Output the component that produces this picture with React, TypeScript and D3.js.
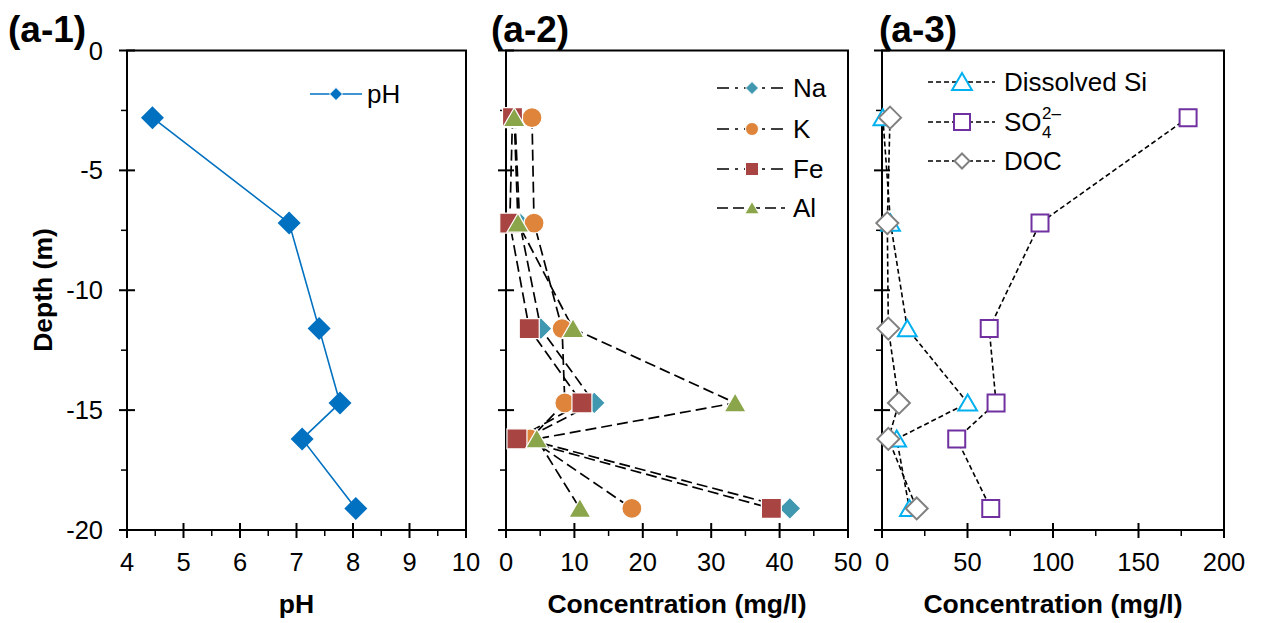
import React from "react";
import * as d3 from "d3";

const depths = [-2.8, -7.2, -11.6, -14.7, -16.2, -19.1];
const pHValues = [4.45, 6.87, 7.4, 7.77, 7.1, 8.05];
const naValues = [1.3, 2.0, 5.1, 12.9, 2.8, 41.5];
const kValues = [3.8, 4.1, 8.2, 8.6, 3.5, 18.4];
const feValues = [0.95, 0.55, 3.4, 11.1, 1.6, 38.8];
const alValues = [1.2, 1.75, 9.8, 33.5, 4.5, 10.8];
const siValues = [0.5, 5, 14.8, 50.1, 8.6, 16];
const so4Values = [179, 92.4, 62.7, 66.7, 43.7, 63.6];
const docValues = [4.7, 3.1, 3.7, 9.9, 3.7, 20.3];

const depthTicks = [0, -5, -10, -15, -20];
const phTicks = [4, 5, 6, 7, 8, 9, 10];
const conc2Ticks = [0, 10, 20, 30, 40, 50];
const conc3Ticks = [0, 50, 100, 150, 200];

const FONT = "'Liberation Sans', Arial, sans-serif";
const TOP = 50.5;
const BOTTOM = 530;

type Shape = "diamond" | "circle" | "square" | "triangle";

function markerPath(shape: Shape, cx: number, cy: number, r: number): string {
  switch (shape) {
    case "diamond":
      return `M${cx},${cy - r}L${cx + r},${cy}L${cx},${cy + r}L${cx - r},${cy}Z`;
    case "square":
      return `M${cx - r},${cy - r}L${cx + r},${cy - r}L${cx + r},${cy + r}L${cx - r},${cy + r}Z`;
    case "triangle":
      return `M${cx},${cy - r}L${cx + r * 1.1},${cy + r * 0.9}L${cx - r * 1.1},${cy + r * 0.9}Z`;
    case "circle":
    default: {
      const p = d3.path();
      p.arc(cx, cy, r, 0, Math.PI * 2);
      p.closePath();
      return p.toString();
    }
  }
}

interface Series {
  name: string;
  values: number[];
  shape: Shape;
  color: string;
  fill: string;
  stroke: string;
  strokeWidth: number;
  r: number;
  legendR: number;
  lineColor: string;
  dash: string;
  legendDash: string;
  lineWidth: number;
}

interface PanelProps {
  x0: number;
  x1: number;
  domain: [number, number];
  xTicks: number[];
  minorStep: number;
  series: Series[];
  showYLabels: boolean;
  xTitle: string;
  label: string;
  labelX: number;
  legend: { x1: number; x2: number; mx: number; tx: number; ys: number[] };
}

function Panel(props: PanelProps) {
  const { x0, x1, domain, xTicks, minorStep, series, showYLabels, xTitle, label, labelX, legend } = props;
  const x = d3.scaleLinear().domain(domain).range([x0, x1]);
  const y = d3.scaleLinear().domain([0, -20]).range([TOP, BOTTOM]);
  const minorX = d3.range(domain[0] + minorStep, domain[1], minorStep * 2);
  const minorY = d3.range(-2.5, -20, -5);
  const line = d3
    .line<number>()
    .x((v) => x(v))
    .y((_, i) => y(depths[i]));

  return (
    <g>
      <rect x={x0} y={TOP} width={x1 - x0} height={BOTTOM - TOP} fill="none" stroke="#000" strokeWidth={2} />
      {depthTicks.map((t) => (
        <line key={"yt" + t} x1={x0 - 8} x2={x0 + 8} y1={y(t)} y2={y(t)} stroke="#000" strokeWidth={2} />
      ))}
      {minorY.map((t) => (
        <line key={"ym" + t} x1={x0 - 6} x2={x0} y1={y(t)} y2={y(t)} stroke="#000" strokeWidth={1.5} />
      ))}
      {showYLabels &&
        depthTicks.map((t) => (
          <text key={"yl" + t} x={x0 - 24} y={y(t)} textAnchor="end" dominantBaseline="central" fontFamily={FONT} fontSize={25.5}>
            {t}
          </text>
        ))}
      {xTicks.map((t) => (
        <line key={"xt" + t} x1={x(t)} x2={x(t)} y1={BOTTOM - 7} y2={BOTTOM + 8} stroke="#000" strokeWidth={2} />
      ))}
      {minorX.map((t) => (
        <line key={"xm" + t} x1={x(t)} x2={x(t)} y1={BOTTOM} y2={BOTTOM + 6} stroke="#000" strokeWidth={1.5} />
      ))}
      {xTicks.map((t) => (
        <text key={"xl" + t} x={x(t)} y={562} textAnchor="middle" dominantBaseline="central" fontFamily={FONT} fontSize={25.5}>
          {t}
        </text>
      ))}
      <text x={(x0 + x1) / 2} y={613} textAnchor="middle" fontFamily={FONT} fontSize={26.5} fontWeight="bold">
        {xTitle}
      </text>
      <text x={labelX} y={42} fontFamily={FONT} fontSize={37} fontWeight="bold">
        {label}
      </text>
      {series.map((s) => (
        <path
          key={"l" + s.name}
          d={line(s.values) || ""}
          fill="none"
          stroke={s.lineColor}
          strokeWidth={s.lineWidth}
          strokeDasharray={s.dash}
        />
      ))}
      {series.map((s) =>
        s.values.map((v, i) => (
          <path
            key={"m" + s.name + i}
            d={markerPath(s.shape, x(v), y(depths[i]), s.r)}
            fill={s.fill}
            stroke={s.stroke}
            strokeWidth={s.strokeWidth}
          />
        ))
      )}
      {series.map((s, i) => {
        const ly = legend.ys[i];
        return (
          <g key={"lg" + s.name}>
            <line x1={legend.x1} x2={legend.x2} y1={ly} y2={ly} stroke={s.lineColor} strokeWidth={s.lineWidth} strokeDasharray={s.legendDash} />
            <path
              d={markerPath(s.shape, legend.mx, ly, s.legendR)}
              fill={s.fill}
              stroke={s.fill === "#fff" ? s.color : "#fff"}
              strokeWidth={s.fill === "#fff" ? 2 : 1}
            />
            {s.name === "SO4" ? (
              <g fontFamily={FONT}>
                <text x={legend.tx} y={ly} dominantBaseline="central" fontSize={26}>
                  SO
                </text>
                <text x={legend.tx + 38} y={ly - 9} dominantBaseline="central" fontSize={17}>
                  2–
                </text>
                <text x={legend.tx + 38} y={ly + 10} dominantBaseline="central" fontSize={17}>
                  4
                </text>
              </g>
            ) : (
              <text x={legend.tx} y={ly} dominantBaseline="central" fontFamily={FONT} fontSize={26}>
                {s.name}
              </text>
            )}
          </g>
        );
      })}
    </g>
  );
}

const dash2 = "11,5";
const dash2Legend = "12,6,3,6";
const dash3 = "5,3";

const phSeries: Series[] = [
  { name: "pH", values: pHValues, shape: "diamond", color: "#0070C0", fill: "#0070C0", stroke: "#0070C0", strokeWidth: 0, r: 11.5, legendR: 6.5, lineColor: "#0070C0", dash: "", legendDash: "", lineWidth: 1.6 },
];

const metalSeries: Series[] = [
  { name: "Na", values: naValues, shape: "diamond", color: "#3F98B0", fill: "#3F98B0", stroke: "#fff", strokeWidth: 1.2, r: 11, legendR: 6.5, lineColor: "#000", dash: dash2, legendDash: dash2Legend, lineWidth: 1.7 },
  { name: "K", values: kValues, shape: "circle", color: "#DE843B", fill: "#DE843B", stroke: "#fff", strokeWidth: 1.2, r: 10, legendR: 6.5, lineColor: "#000", dash: dash2, legendDash: dash2Legend, lineWidth: 1.7 },
  { name: "Fe", values: feValues, shape: "square", color: "#A84442", fill: "#A84442", stroke: "#fff", strokeWidth: 1.2, r: 10, legendR: 6.5, lineColor: "#000", dash: dash2, legendDash: dash2Legend, lineWidth: 1.7 },
  { name: "Al", values: alValues, shape: "triangle", color: "#8BA54B", fill: "#8BA54B", stroke: "#fff", strokeWidth: 1.2, r: 10, legendR: 6.5, lineColor: "#000", dash: dash2, legendDash: dash2, lineWidth: 1.7 },
];

const otherSeries: Series[] = [
  { name: "Dissolved Si", values: siValues, shape: "triangle", color: "#00B0F0", fill: "#fff", stroke: "#00B0F0", strokeWidth: 2, r: 8.5, legendR: 9, lineColor: "#000", dash: dash3, legendDash: dash3, lineWidth: 1.6 },
  { name: "SO4", values: so4Values, shape: "square", color: "#7030A0", fill: "#fff", stroke: "#7030A0", strokeWidth: 2, r: 8.5, legendR: 8, lineColor: "#000", dash: dash3, legendDash: dash3, lineWidth: 1.6 },
  { name: "DOC", values: docValues, shape: "diamond", color: "#808080", fill: "#fff", stroke: "#808080", strokeWidth: 2, r: 11, legendR: 7.5, lineColor: "#000", dash: dash3, legendDash: dash3, lineWidth: 1.6 },
];

export default function App() {
  return (
    <svg width={1268} height={623} style={{ position: "absolute", left: 0, top: 0, background: "#fff" }}>
      <rect width={1268} height={623} fill="#fff" />
      <Panel
        x0={127}
        x1={466}
        domain={[4, 10]}
        xTicks={phTicks}
        minorStep={0.5}
        series={phSeries}
        showYLabels={true}
        xTitle="pH"
        label="(a-1)"
        labelX={8}
        legend={{ x1: 310, x2: 362, mx: 336, tx: 367, ys: [94] }}
      />
      <Panel
        x0={506}
        x1={848}
        domain={[0, 50]}
        xTicks={conc2Ticks}
        minorStep={5}
        series={metalSeries}
        showYLabels={false}
        xTitle="Concentration (mg/l)"
        label="(a-2)"
        labelX={491}
        legend={{ x1: 717, x2: 785, mx: 752, tx: 793, ys: [88, 129, 169, 208] }}
      />
      <Panel
        x0={882}
        x1={1224}
        domain={[0, 200]}
        xTicks={conc3Ticks}
        minorStep={25}
        series={otherSeries}
        showYLabels={false}
        xTitle="Concentration (mg/l)"
        label="(a-3)"
        labelX={879}
        legend={{ x1: 928, x2: 995, mx: 962, tx: 1004, ys: [82, 122, 161] }}
      />
      <text transform="translate(52,290) rotate(-90)" textAnchor="middle" fontFamily={FONT} fontSize={26.5} fontWeight="bold">
        Depth (m)
      </text>
    </svg>
  );
}
